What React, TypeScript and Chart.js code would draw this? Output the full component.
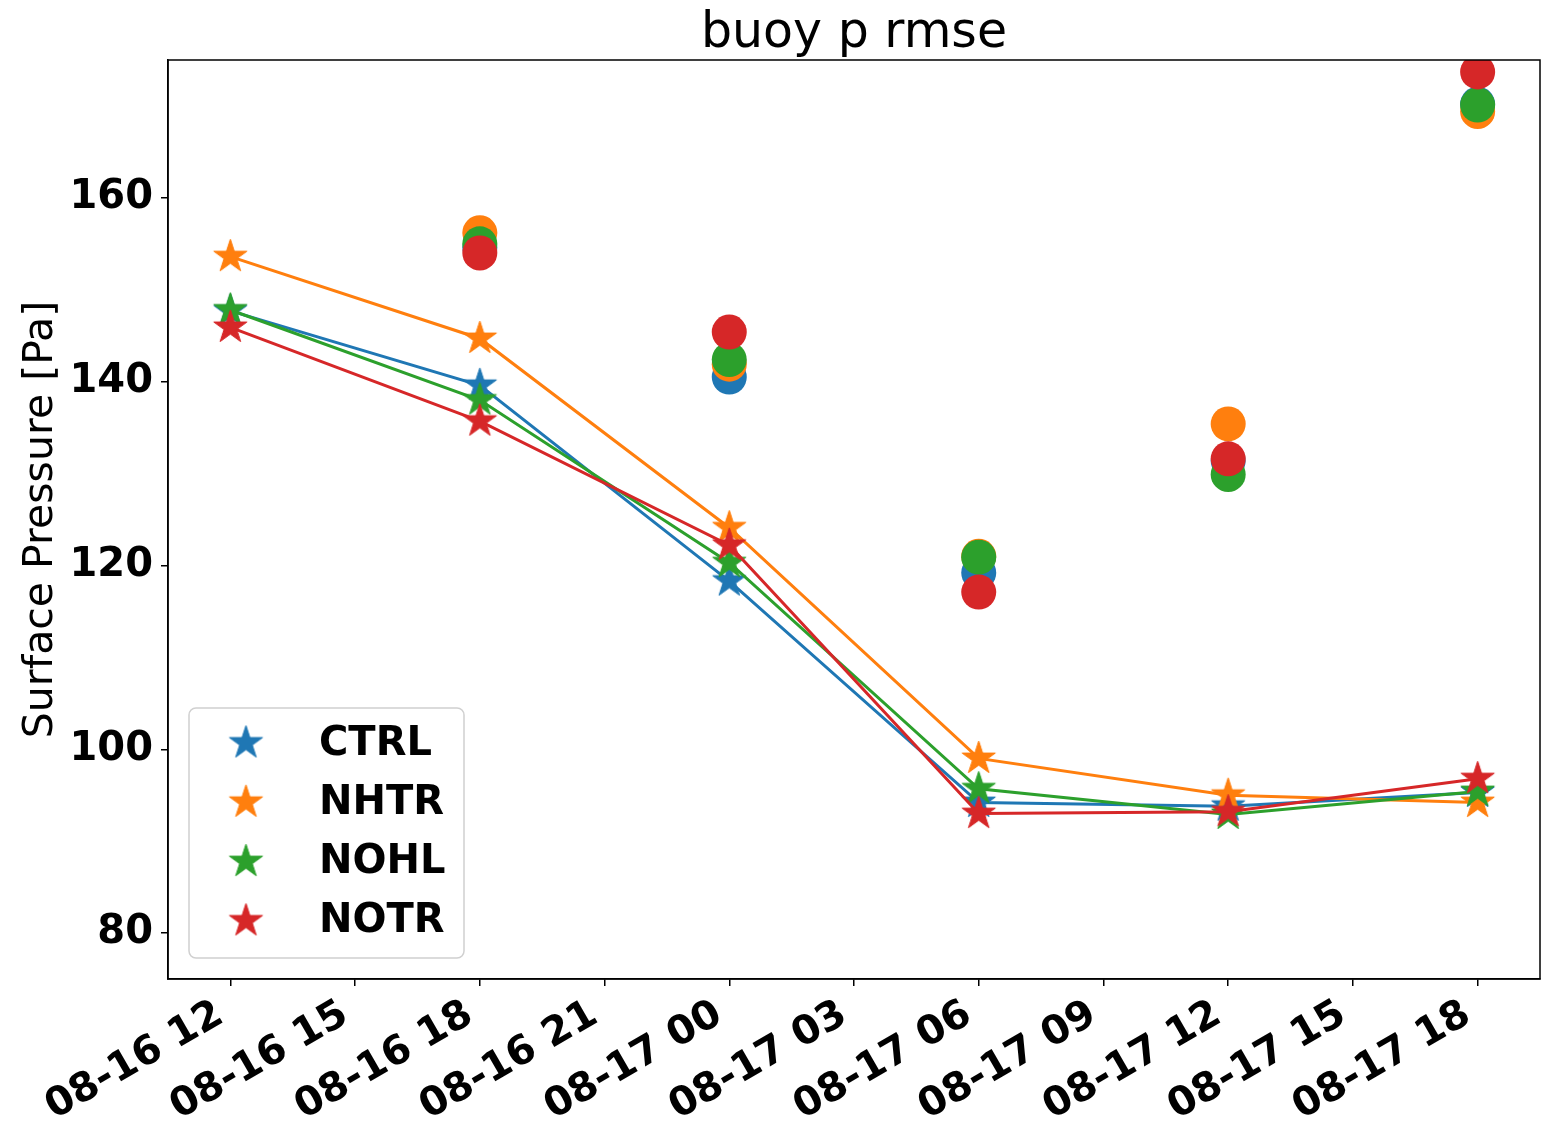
import React, { useEffect, useRef } from 'react';
import { Chart, registerables } from 'chart.js';

Chart.register(...registerables);

const FONT = "'DejaVu Sans', sans-serif";

const titleText = 'buoy p rmse';
const yTitle = 'Surface Pressure [Pa]';
const experiments = ['CTRL', 'NHTR', 'NOHL', 'NOTR'];
const colors = ['#1f77b4', '#ff7f0e', '#2ca02c', '#d62728'];

// hours after 08-16 12
const starHours = [0, 6, 12, 18, 24, 30];
const ctrlStar = [147.7, 139.6, 118.3, 94.2, 93.8, 95.3];
const nhtrStar = [153.6, 144.7, 124.1, 99.0, 95.0, 94.2];
const nohlStar = [147.8, 138.0, 120.3, 95.7, 92.9, 95.4];
const notrStar = [145.9, 135.7, 122.2, 93.0, 93.2, 96.8];

const circleHours = [6, 12, 18, 24, 30];
const ctrlCircle = [154.6, 140.5, 119.2, 131.4, 170.2];
const nhtrCircle = [156.2, 141.9, 121.0, 135.4, 169.4];
const nohlCircle = [155.0, 142.4, 120.9, 129.9, 170.1];
const notrCircle = [154.0, 145.4, 117.1, 131.6, 173.7];

const xTickHours = [0, 3, 6, 9, 12, 15, 18, 21, 24, 27, 30];
const xTickLabels = [
  '08-16 12', '08-16 15', '08-16 18', '08-16 21', '08-17 00', '08-17 03',
  '08-17 06', '08-17 09', '08-17 12', '08-17 15', '08-17 18',
];
const yTicks = [80, 100, 120, 140, 160];

const starSeries = [ctrlStar, nhtrStar, nohlStar, notrStar];
const circleSeries = [ctrlCircle, nhtrCircle, nohlCircle, notrCircle];

function makeStar(color: string, R: number): HTMLCanvasElement {
  const size = Math.ceil(R * 2 + 4);
  const c = document.createElement('canvas');
  c.width = size;
  c.height = size;
  const ctx = c.getContext('2d')!;
  const cx = size / 2;
  const cy = size / 2;
  const r = R * 0.381966;
  ctx.beginPath();
  for (let i = 0; i < 10; i++) {
    const rad = i % 2 === 0 ? R : r;
    const a = -Math.PI / 2 + (i * Math.PI) / 5;
    const x = cx + rad * Math.cos(a);
    const y = cy + rad * Math.sin(a);
    if (i === 0) ctx.moveTo(x, y);
    else ctx.lineTo(x, y);
  }
  ctx.closePath();
  ctx.fillStyle = color;
  ctx.fill();
  ctx.strokeStyle = color;
  ctx.lineWidth = 1;
  ctx.stroke();
  return c;
}

export default function App() {
  const ref = useRef<HTMLCanvasElement | null>(null);

  useEffect(() => {
    if (!ref.current) return;
    const stars = colors.map((c) => makeStar(c, 17.5));

    const datasets: any[] = [];
    experiments.forEach((name, i) => {
      datasets.push({
        label: name,
        data: starHours.map((h, j) => ({ x: h, y: starSeries[i][j] })),
        borderColor: colors[i],
        backgroundColor: colors[i],
        borderWidth: 3,
        pointStyle: stars[i],
        pointRadius: 17,
        pointHoverRadius: 17,
        showLine: true,
        order: 10 - i * 2,
      });
      datasets.push({
        label: name + ' circle',
        data: circleHours.map((h, j) => ({ x: h, y: circleSeries[i][j] })),
        borderColor: colors[i],
        backgroundColor: colors[i],
        borderWidth: 0,
        pointStyle: 'circle',
        pointRadius: 17.5,
        pointHoverRadius: 17.5,
        showLine: false,
        order: 9 - i * 2,
      });
    });

    const framePlugin = {
      id: 'frameLegend',
      afterDraw(chart: any) {
        const { ctx, chartArea: a } = chart;
        ctx.save();
        ctx.strokeStyle = '#000';
        ctx.lineWidth = 1.5;
        ctx.strokeRect(a.left, a.top, a.right - a.left, a.bottom - a.top);

        // title centred over the plot area
        ctx.font = `normal 49px ${FONT}`;
        ctx.fillStyle = '#000';
        ctx.textAlign = 'center';
        ctx.textBaseline = 'alphabetic';
        ctx.fillText(titleText, (a.left + a.right) / 2, a.top - 13);

        // legend
        const bx = a.left + 21;
        const by = a.bottom - 21 - 250;
        const bw = 275;
        const bh = 250;
        const rr = 7;
        ctx.beginPath();
        ctx.moveTo(bx + rr, by);
        ctx.lineTo(bx + bw - rr, by);
        ctx.arcTo(bx + bw, by, bx + bw, by + rr, rr);
        ctx.lineTo(bx + bw, by + bh - rr);
        ctx.arcTo(bx + bw, by + bh, bx + bw - rr, by + bh, rr);
        ctx.lineTo(bx + rr, by + bh);
        ctx.arcTo(bx, by + bh, bx, by + bh - rr, rr);
        ctx.lineTo(bx, by + rr);
        ctx.arcTo(bx, by, bx + rr, by, rr);
        ctx.closePath();
        ctx.fillStyle = 'rgba(255,255,255,0.8)';
        ctx.fill();
        ctx.strokeStyle = '#d0d0d0';
        ctx.lineWidth = 1.5;
        ctx.stroke();

        ctx.font = `bold 40px ${FONT}`;
        ctx.fillStyle = '#000';
        ctx.textAlign = 'left';
        ctx.textBaseline = 'alphabetic';
        experiments.forEach((name, i) => {
          const cy = by + 35 + i * 59.3;
          const s = stars[i];
          ctx.drawImage(s, bx + 57 - s.width / 2, cy - s.height / 2);
          ctx.fillText(name, bx + 130, cy + 11.5);
        });
        ctx.restore();
      },
    };

    const chart = new Chart(ref.current, {
      type: 'scatter',
      data: { datasets },
      plugins: [framePlugin],
      options: {
        animation: false,
        responsive: true,
        maintainAspectRatio: false,
        layout: { autoPadding: false, padding: { top: 60, left: 0, right: 12, bottom: 0 } },
        plugins: {
          legend: { display: false },
          tooltip: { enabled: false },
          title: { display: false },
        },
        scales: {
          x: {
            type: 'linear',
            min: -1.5,
            max: 31.5,
            afterBuildTicks: (scale: any) => {
              scale.ticks = xTickHours.map((v) => ({ value: v }));
            },
            afterFit: (scale: any) => {
              scale.height = 142;
              scale.paddingLeft = 0;
              scale.paddingRight = 0;
            },
            ticks: {
              autoSkip: false,
              minRotation: 30,
              maxRotation: 30,
              padding: 5,
              labelOffset: -10,
              color: '#000',
              font: { family: FONT, size: 40, weight: 'bold' },
              callback: (v: any) => {
                const idx = xTickHours.indexOf(Number(v));
                return idx >= 0 ? xTickLabels[idx] : '';
              },
            },
            grid: {
              display: true,
              drawOnChartArea: false,
              drawTicks: true,
              tickLength: 7,
              color: '#000',
              lineWidth: 1.5,
            },
            border: { display: true, color: '#000', width: 1.5 },
          },
          y: {
            type: 'linear',
            min: 75,
            max: 175,
            afterBuildTicks: (scale: any) => {
              scale.ticks = yTicks.map((v) => ({ value: v }));
            },
            afterFit: (scale: any) => {
              scale.width = 168;
              scale.paddingTop = 0;
              scale.paddingBottom = 0;
            },
            title: {
              display: true,
              text: yTitle,
              color: '#000',
              font: { family: FONT, size: 41, weight: 'normal' },
              padding: { top: 17, bottom: 0 },
            },
            ticks: {
              padding: 8,
              color: '#000',
              font: { family: FONT, size: 40, weight: 'bold' },
            },
            grid: {
              display: true,
              drawOnChartArea: false,
              drawTicks: true,
              tickLength: 7,
              color: '#000',
              lineWidth: 1.5,
            },
            border: { display: true, color: '#000', width: 1.5 },
          },
        },
      } as any,
    });
    return () => chart.destroy();
  }, []);

  return (
    <div
      style={{
        position: 'fixed',
        left: 0,
        top: 0,
        width: 1552,
        height: 1121,
        background: '#fff',
      }}
    >
      <canvas ref={ref} />
    </div>
  );
}
